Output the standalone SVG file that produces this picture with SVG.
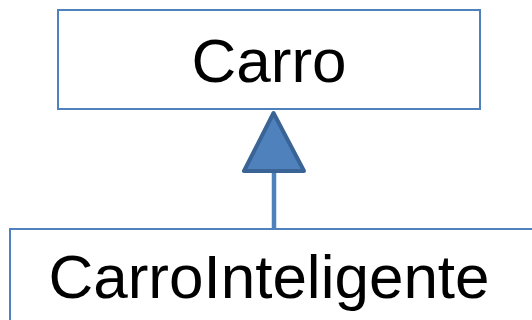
<svg xmlns="http://www.w3.org/2000/svg" width="532" height="320" viewBox="0 0 532 320">
<style>
.box{fill:#fff;stroke:#4F81BD;stroke-width:2}
.lbl{font-family:"Liberation Sans",Arial,sans-serif;font-size:62px;fill:#000;text-anchor:middle}
</style>
<rect width="532" height="320" fill="#fff"/>
<g id="Carro">
<rect class="box" x="58" y="10" width="422" height="99"/>
<text class="lbl" x="269" y="82">Carro</text>
</g>
<g id="CarroInteligente">
<rect class="box" x="10" y="229" width="540" height="110"/>
<text class="lbl" x="269" y="298">CarroInteligente</text>
</g>
<g id="connectors">
<line x1="274" y1="228" x2="274" y2="170" stroke="#4F81BD" stroke-width="4.5"/>
<polygon points="273.5,113 244,171 304,171" fill="#4F81BD" stroke="#3A6496" stroke-width="4" stroke-linejoin="round"/>
</g>
</svg>
